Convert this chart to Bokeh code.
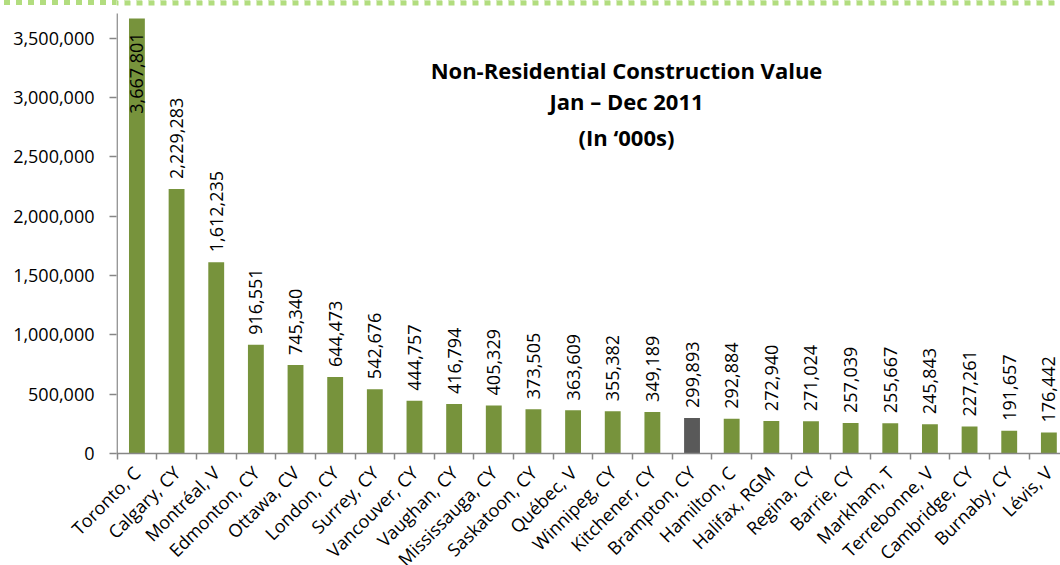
import math
from bokeh.plotting import figure
from bokeh.models import (ColumnDataSource, Range1d, LinearAxis, FixedTicker,
                          NumeralTickFormatter, LabelSet, Label, Span)
from bokeh.core.properties import value
from bokeh.embed import file_html
from bokeh.resources import INLINE

cities = ["Toronto, C", "Calgary, CY", "Montréal, V", "Edmonton, CY", "Ottawa, CV",
          "London, CY", "Surrey, CY", "Vancouver, CY", "Vaughan, CY", "Mississauga, CY",
          "Saskatoon, CY", "Québec, V", "Winnipeg, CY", "Kitchener, CY", "Brampton, CY",
          "Hamilton, C", "Halifax, RGM", "Regina, CY", "Barrie, CY", "Markham, T",
          "Terrebonne, V", "Cambridge, CY", "Burnaby, CY", "Lévis, V"]
values = [3667801, 2229283, 1612235, 916551, 745340, 644473, 542676, 444757,
          416794, 405329, 373505, 363609, 355382, 349189, 299893, 292884,
          272940, 271024, 257039, 255667, 245843, 227261, 191657, 176442]
highlight = ["Brampton, CY"]
y_ticks = [0, 500000, 1000000, 1500000, 2000000, 2500000, 3000000, 3500000]
title_lines = ["Non-Residential Construction Value", "Jan \u2013 Dec 2011", "(In \u2018000s)"]

FONT = "Open Sans"
GREEN = "#77933C"
GREY = "#595959"
AXIS = "#868686"
RULE = "#B2DD7F"

FRAME_H = 453                 # frame reaches the top of the page
PX = 500000 / 59.31           # data units per pixel
Y_TOP = FRAME_H * PX          # top of the frame
AXIS_TOP = (FRAME_H - 13) * PX  # visible top of the value axis

idx = list(range(len(cities)))
colors = [GREY if c in highlight else GREEN for c in cities]
labels = [f"{v:,}" for v in values]
inside = [v + 95 * PX > AXIS_TOP for v in values]

src = ColumnDataSource(dict(x=idx, top=values, color=colors))
out_src = ColumnDataSource(dict(x=[i for i in idx if not inside[i]],
                                y=[values[i] for i in idx if not inside[i]],
                                lab=[labels[i] for i in idx if not inside[i]]))
in_src = ColumnDataSource(dict(x=[i for i in idx if inside[i]],
                               y=[values[i] for i in idx if inside[i]],
                               lab=[labels[i] for i in idx if inside[i]]))

x_start = -0.5 - 0.6 / 39.65
p = figure(frame_width=944, frame_height=FRAME_H, output_backend="svg", toolbar_location=None,
           x_range=Range1d(x_start, x_start + 944 / 39.65), y_range=Range1d(0, Y_TOP),
           x_axis_type=None, y_axis_type=None,
           min_border_left=116, min_border_right=0, min_border_top=0, min_border_bottom=0)
p.outline_line_color = None
p.background_fill_color = "white"
p.border_fill_color = None
# dashed rule across the page top (shows through the transparent border area)
p.styles = {
    "background-image": f"linear-gradient(to right, transparent 4px, {RULE} 4px, "
                        f"{RULE} 10px, transparent 10px)",
    "background-size": "12px 5px",
    "background-repeat": "repeat-x",
    "background-position": "0 0",
}

# the same dashed rule over the plotting frame
p.add_layout(Span(location=Y_TOP - 2.6 * PX, dimension="width", line_color=RULE,
                  line_width=5, line_dash="6 6", line_dash_offset=4))

p.vbar(x="x", top="top", width=0.4, source=src, fill_color="color", line_color=None)

# value axis line (only up to the visible top of the axis)
p.segment(x0=[-0.5], y0=[0], x1=[-0.5], y1=[AXIS_TOP], line_color=AXIS, line_width=1.5)

yaxis = LinearAxis(ticker=FixedTicker(ticks=y_ticks, minor_ticks=[]),
                   formatter=NumeralTickFormatter(format="0,0"))
yaxis.axis_line_color = None
yaxis.major_tick_line_color = AXIS
yaxis.major_tick_line_width = 1.5
yaxis.major_tick_out = 7
yaxis.major_tick_in = 0
yaxis.minor_tick_line_color = None
yaxis.major_label_text_font = FONT
yaxis.major_label_text_font_size = "18px"
yaxis.major_label_text_color = "#000000"
yaxis.major_label_standoff = 15
p.add_layout(yaxis, "left")

bounds = [i - 0.5 for i in range(len(cities) + 1)]
xaxis = LinearAxis(ticker=FixedTicker(ticks=idx, minor_ticks=bounds))
xaxis.major_label_overrides = {i: c for i, c in zip(idx, cities)}
xaxis.major_label_orientation = math.pi / 4
xaxis.axis_line_color = AXIS
xaxis.axis_line_width = 1.5
xaxis.major_tick_line_color = None
xaxis.major_tick_out = 0
xaxis.major_tick_in = 0
xaxis.minor_tick_line_color = AXIS
xaxis.minor_tick_line_width = 1.5
xaxis.minor_tick_out = 6
xaxis.minor_tick_in = 0
xaxis.major_label_text_font = FONT
xaxis.major_label_text_font_size = "18px"
xaxis.major_label_text_color = "#000000"
xaxis.major_label_standoff = 10
p.add_layout(xaxis, "below")

val_out = LabelSet(x="x", y="y", text="lab", source=out_src, angle=math.pi / 2,
                   text_align="left", text_baseline="middle", y_offset=10,
                   text_font=value(FONT), text_font_size="18px", text_color="#000000")
p.add_layout(val_out)
val_in = LabelSet(x="x", y="y", text="lab", source=in_src, angle=math.pi / 2,
                  text_align="right", text_baseline="middle", y_offset=-14,
                  text_font=value(FONT), text_font_size="18px", text_color="#000000")
p.add_layout(val_in)

for line, sy in zip(title_lines, [384, 353, 317]):
    p.add_layout(Label(x=510, y=sy, x_units="screen", y_units="screen", text=line,
                       text_align="center", text_baseline="middle",
                       text_font=FONT, text_font_size="22px", text_font_style="bold",
                       text_color="#000000"))

open("out.html", "w").write(file_html(p, INLINE))
